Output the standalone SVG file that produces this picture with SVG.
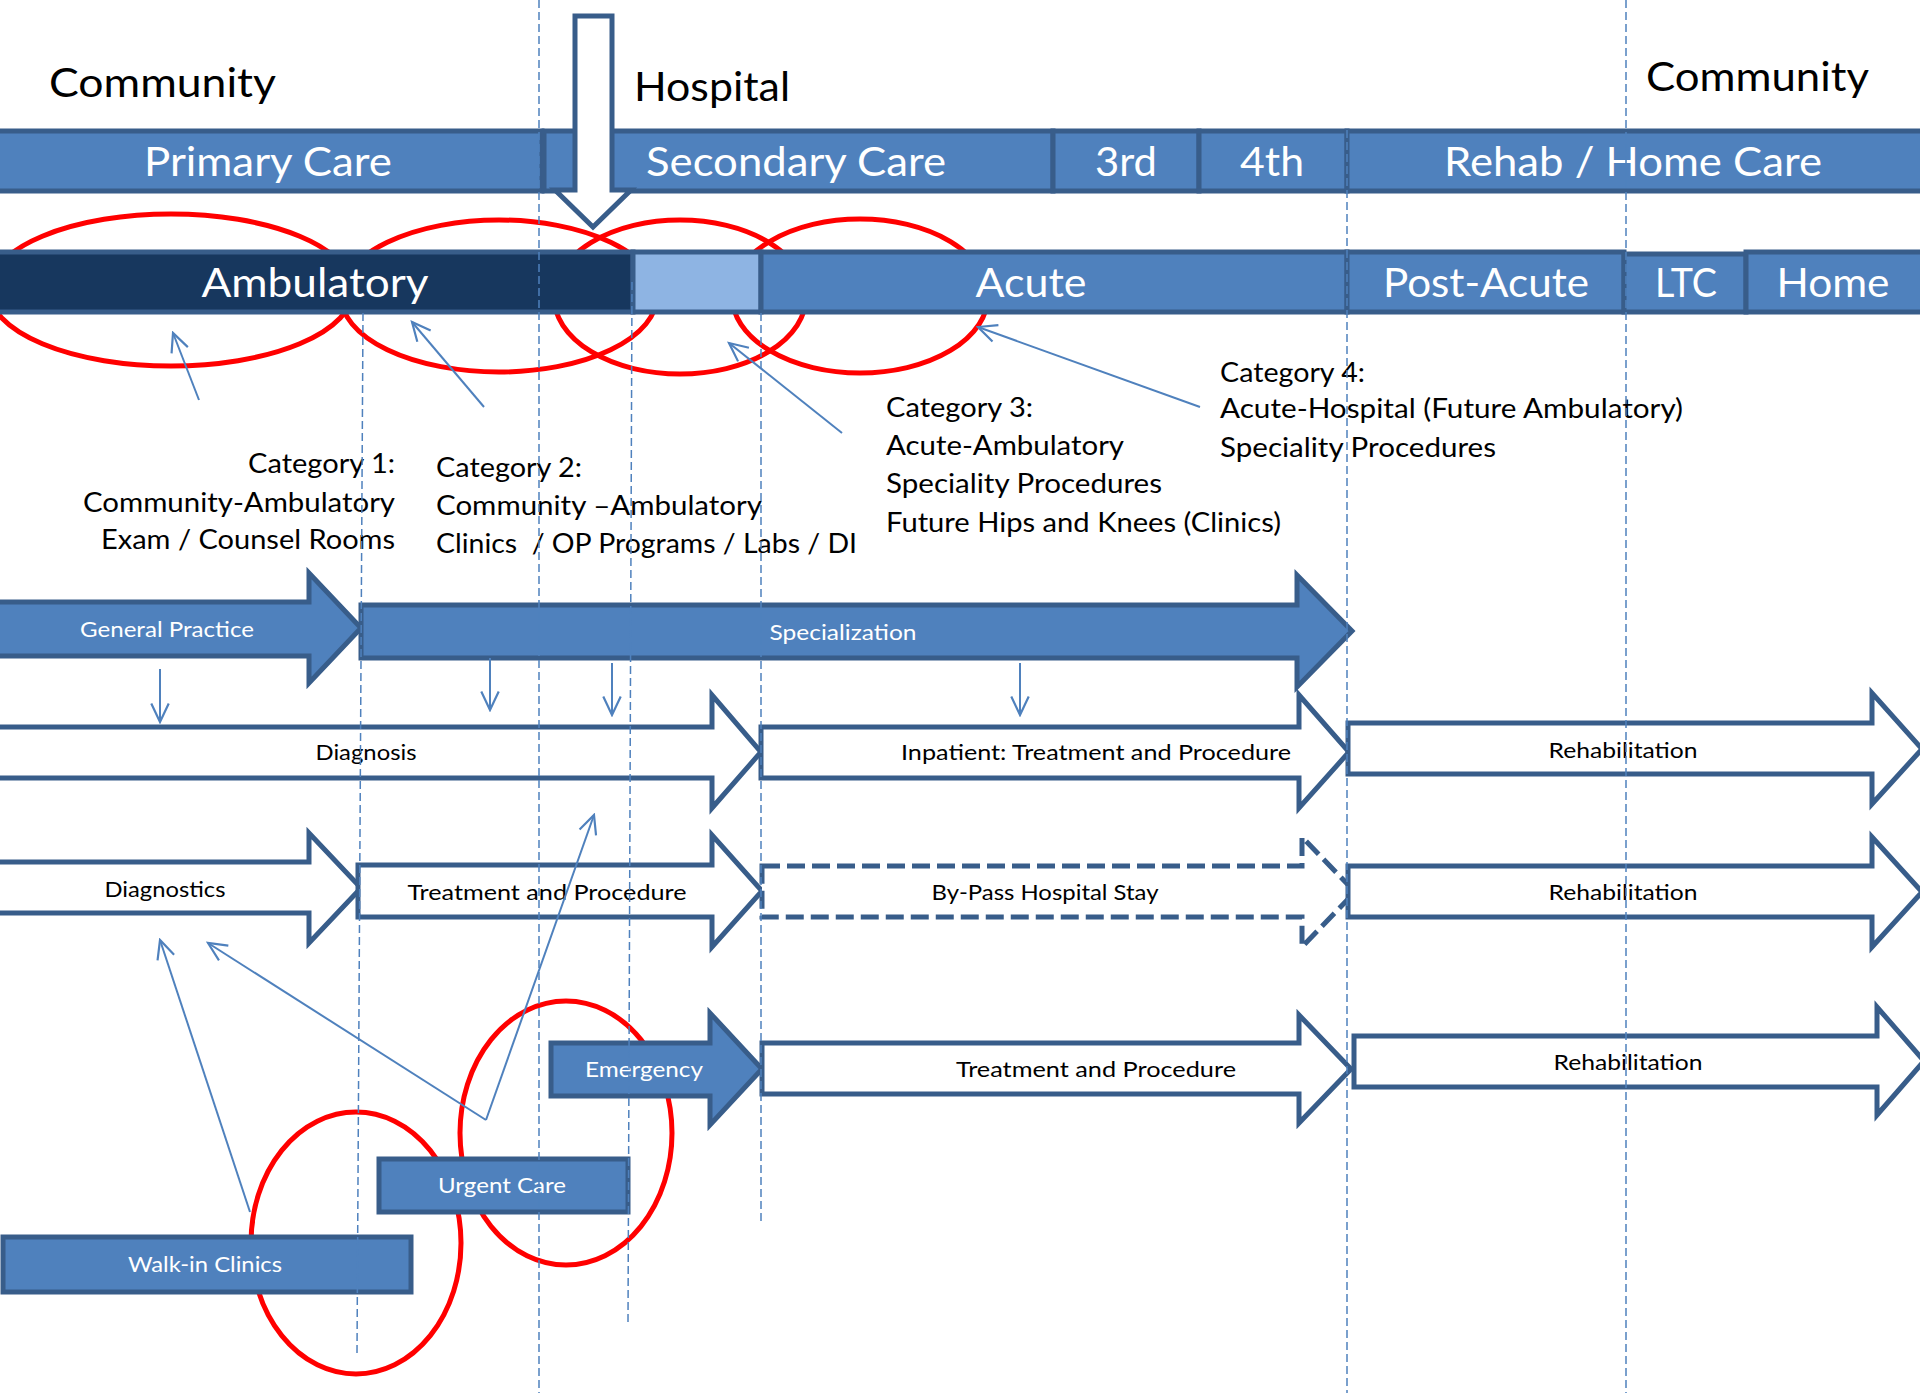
<svg xmlns="http://www.w3.org/2000/svg" width="1920" height="1393" viewBox="0 0 1920 1393">
  <style>
    text { font-family: Lato, "Open Sans", "Liberation Sans", sans-serif; }
    .bar { fill: #4F81BD; stroke: #385D8A; stroke-width: 5; }
    .dark { fill: #17375E; stroke: #385D8A; stroke-width: 5; }
    .light { fill: #8EB4E3; stroke: #385D8A; stroke-width: 5; }
    .hollow { fill: #FFFFFF; stroke: #385D8A; stroke-width: 5; stroke-linejoin: miter; }
    .dashed { stroke-dasharray: 18 7; }
    .ring { fill: none; stroke: #FF0000; stroke-width: 5; }
    .guide { stroke: #4F81BD; stroke-width: 1.5; stroke-dasharray: 8 4; fill: none; }
    .pointer { stroke: #4F81BD; stroke-width: 2; fill: none; marker-end: url(#vhead); }
    .big { font-size: 41px; }
    .white { fill: #FFFFFF; }
    .black { fill: #000000; }
    .cat { font-size: 27px; fill: #000000; }
    .lbl { font-size: 22px; }
    .mid { text-anchor: middle; }
  </style>
  <defs>
    <marker id="vhead" markerUnits="userSpaceOnUse" markerWidth="24" markerHeight="24" viewBox="-20 -10 22 20" refX="0" refY="0" orient="auto">
      <path d="M -17 -8 L 0 0 L -17 8" fill="none" stroke="#4F81BD" stroke-width="2"/>
    </marker>
  </defs>

  <rect x="0" y="0" width="1920" height="1393" fill="#FFFFFF"/>

  <!-- region headings -->
  <g id="headings">
    <text class="big black" x="49" y="97" textLength="227" lengthAdjust="spacingAndGlyphs">Community</text>
    <text class="big black" x="634" y="101" textLength="156" lengthAdjust="spacingAndGlyphs">Hospital</text>
    <text class="big black" x="1646" y="91" textLength="223" lengthAdjust="spacingAndGlyphs">Community</text>
  </g>

  <!-- red groupings around the ambulatory band -->
  <g id="rings-top">
    <ellipse class="ring" cx="171" cy="290" rx="182" ry="76"/>
    <ellipse class="ring" cx="499" cy="296" rx="158" ry="76"/>
    <ellipse class="ring" cx="680" cy="297" rx="126" ry="77"/>
    <ellipse class="ring" cx="860" cy="296" rx="128" ry="77"/>
  </g>

  <!-- care level band -->
  <g id="care-levels">
    <g id="primary-care">
      <rect class="bar" x="-5" y="131" width="547" height="60"/>
      <text class="big white mid" x="268" y="176" textLength="248" lengthAdjust="spacingAndGlyphs">Primary Care</text>
    </g>
    <g id="secondary-care">
      <rect class="bar" x="544" y="131" width="509" height="60"/>
      <text class="big white mid" x="796" y="176" textLength="300" lengthAdjust="spacingAndGlyphs">Secondary Care</text>
    </g>
    <g id="tertiary">
      <rect class="bar" x="1053" y="131" width="146" height="60"/>
      <text class="big white mid" x="1126" y="176" textLength="62" lengthAdjust="spacingAndGlyphs">3rd</text>
    </g>
    <g id="quaternary">
      <rect class="bar" x="1199" y="131" width="148" height="60"/>
      <text class="big white mid" x="1272" y="176" textLength="64" lengthAdjust="spacingAndGlyphs">4th</text>
    </g>
    <g id="rehab-home-care">
      <rect class="bar" x="1347" y="131" width="578" height="60"/>
      <text class="big white mid" x="1633" y="176" textLength="378" lengthAdjust="spacingAndGlyphs">Rehab / Home Care</text>
    </g>
  </g>

  <!-- setting band -->
  <g id="settings">
    <g id="ambulatory">
      <rect class="dark" x="-5" y="252" width="638" height="60"/>
      <text class="big white mid" x="315" y="297" textLength="227" lengthAdjust="spacingAndGlyphs">Ambulatory</text>
    </g>
    <g id="transition">
      <rect class="light" x="633" y="252" width="128" height="60"/>
    </g>
    <g id="acute">
      <rect class="bar" x="761" y="252" width="586" height="60"/>
      <text class="big white mid" x="1031" y="297" textLength="111" lengthAdjust="spacingAndGlyphs">Acute</text>
    </g>
    <g id="post-acute">
      <rect class="bar" x="1347" y="252" width="277" height="60"/>
      <text class="big white mid" x="1486" y="297" textLength="206" lengthAdjust="spacingAndGlyphs">Post-Acute</text>
    </g>
    <g id="ltc">
      <rect class="bar" x="1624" y="254" width="122" height="58"/>
      <text class="big white mid" x="1686" y="297" textLength="62" lengthAdjust="spacingAndGlyphs">LTC</text>
    </g>
    <g id="home">
      <rect class="bar" x="1746" y="252" width="179" height="60"/>
      <text class="big white mid" x="1833" y="297" textLength="113" lengthAdjust="spacingAndGlyphs">Home</text>
    </g>
  </g>

  <!-- entry arrow into hospital -->
  <g id="hospital-entry">
    <path class="hollow" d="M 575 16 H 612 V 190 H 631 L 593 227 L 555 190 H 575 Z"/>
  </g>

  <!-- category descriptions -->
  <g id="category-1">
    <text class="cat" x="395" y="473" text-anchor="end" textLength="147" lengthAdjust="spacingAndGlyphs">Category 1:</text>
    <text class="cat" x="395" y="512" text-anchor="end" textLength="312" lengthAdjust="spacingAndGlyphs">Community-Ambulatory</text>
    <text class="cat" x="395" y="549" text-anchor="end" textLength="294" lengthAdjust="spacingAndGlyphs">Exam / Counsel Rooms</text>
  </g>
  <g id="category-2">
    <text class="cat" x="436" y="477" textLength="146" lengthAdjust="spacingAndGlyphs">Category 2:</text>
    <text class="cat" x="436" y="515" textLength="326" lengthAdjust="spacingAndGlyphs">Community –Ambulatory</text>
    <text class="cat" x="436" y="553" textLength="421" lengthAdjust="spacingAndGlyphs" xml:space="preserve">Clinics  / OP Programs / Labs / DI</text>
  </g>
  <g id="category-3">
    <text class="cat" x="886" y="417" textLength="147" lengthAdjust="spacingAndGlyphs">Category 3:</text>
    <text class="cat" x="886" y="455" textLength="238" lengthAdjust="spacingAndGlyphs">Acute-Ambulatory</text>
    <text class="cat" x="886" y="493" textLength="276" lengthAdjust="spacingAndGlyphs">Speciality Procedures</text>
    <text class="cat" x="886" y="532" textLength="395" lengthAdjust="spacingAndGlyphs">Future Hips and Knees (Clinics)</text>
  </g>
  <g id="category-4">
    <text class="cat" x="1220" y="382" textLength="145" lengthAdjust="spacingAndGlyphs">Category 4:</text>
    <text class="cat" x="1220" y="418" textLength="463" lengthAdjust="spacingAndGlyphs">Acute-Hospital (Future Ambulatory)</text>
    <text class="cat" x="1220" y="457" textLength="276" lengthAdjust="spacingAndGlyphs">Speciality Procedures</text>
  </g>

  <!-- red groupings around urgent care and walk-in -->
  <g id="rings-bottom">
    <ellipse class="ring" cx="566" cy="1133" rx="106" ry="132"/>
    <ellipse class="ring" cx="356" cy="1243" rx="105" ry="131"/>
  </g>

  <!-- pathway arrows -->
  <g id="general-practice">
    <path class="bar" d="M -10 602 H 309 V 573 L 361 628 L 309 683 V 656 H -10 Z"/>
    <text class="lbl white mid" x="167" y="637" textLength="174" lengthAdjust="spacingAndGlyphs">General Practice</text>
  </g>
  <g id="specialization">
    <path class="bar" d="M 361 605 H 1297 V 575 L 1352 631 L 1297 687 V 658 H 361 Z"/>
    <text class="lbl white mid" x="843" y="640" textLength="147" lengthAdjust="spacingAndGlyphs">Specialization</text>
  </g>

  <g id="diagnosis">
    <path class="hollow" d="M -10 727 H 712 V 695 L 761 752 L 712 808 V 778 H -10 Z"/>
    <text class="lbl black mid" x="366" y="760" textLength="101" lengthAdjust="spacingAndGlyphs">Diagnosis</text>
  </g>
  <g id="inpatient">
    <path class="hollow" d="M 761 727 H 1299 V 695 L 1349 752 L 1299 808 V 778 H 761 Z"/>
    <text class="lbl black mid" x="1096" y="760" textLength="390" lengthAdjust="spacingAndGlyphs">Inpatient: Treatment and Procedure</text>
  </g>
  <g id="rehabilitation-1">
    <path class="hollow" d="M 1348 723 H 1872 V 693 L 1922 749 L 1872 804 V 774 H 1348 Z"/>
    <text class="lbl black mid" x="1623" y="758" textLength="149" lengthAdjust="spacingAndGlyphs">Rehabilitation</text>
  </g>

  <g id="diagnostics">
    <path class="hollow" d="M -10 862 H 309 V 833 L 361 888 L 309 943 V 913 H -10 Z"/>
    <text class="lbl black mid" x="165" y="897" textLength="121" lengthAdjust="spacingAndGlyphs">Diagnostics</text>
  </g>
  <g id="treatment-2">
    <path class="hollow" d="M 358 865 H 712 V 835 L 762 891 L 712 947 V 917 H 358 Z"/>
    <text class="lbl black mid" x="547" y="900" textLength="279" lengthAdjust="spacingAndGlyphs">Treatment and Procedure</text>
  </g>
  <g id="bypass">
    <path class="hollow dashed" d="M 762 866 H 1302 V 837 L 1355 892 L 1302 947 V 917 H 762 Z"/>
    <text class="lbl black mid" x="1045" y="900" textLength="227" lengthAdjust="spacingAndGlyphs">By-Pass Hospital Stay</text>
  </g>
  <g id="rehabilitation-2">
    <path class="hollow" d="M 1348 866 H 1872 V 837 L 1922 892 L 1872 947 V 917 H 1348 Z"/>
    <text class="lbl black mid" x="1623" y="900" textLength="149" lengthAdjust="spacingAndGlyphs">Rehabilitation</text>
  </g>

  <g id="emergency">
    <path class="bar" d="M 551 1043 H 710 V 1013 L 762 1069 L 710 1125 V 1096 H 551 Z"/>
    <text class="lbl white mid" x="644" y="1077" textLength="118" lengthAdjust="spacingAndGlyphs">Emergency</text>
  </g>
  <g id="treatment-3">
    <path class="hollow" d="M 762 1043 H 1299 V 1015 L 1351 1069 L 1299 1123 V 1094 H 762 Z"/>
    <text class="lbl black mid" x="1096" y="1077" textLength="280" lengthAdjust="spacingAndGlyphs">Treatment and Procedure</text>
  </g>
  <g id="rehabilitation-3">
    <path class="hollow" d="M 1354 1036 H 1877 V 1007 L 1924 1061 L 1877 1115 V 1087 H 1354 Z"/>
    <text class="lbl black mid" x="1628" y="1070" textLength="149" lengthAdjust="spacingAndGlyphs">Rehabilitation</text>
  </g>

  <g id="urgent-care">
    <rect class="bar" x="379" y="1159" width="249" height="53"/>
    <text class="lbl white mid" x="502" y="1193" textLength="128" lengthAdjust="spacingAndGlyphs">Urgent Care</text>
  </g>
  <g id="walk-in-clinics">
    <rect class="bar" x="3" y="1237" width="408" height="55"/>
    <text class="lbl white mid" x="205" y="1272" textLength="154" lengthAdjust="spacingAndGlyphs">Walk-in Clinics</text>
  </g>

  <!-- connectors: pointers and dashed column guides -->
  <g id="connectors">
    <line class="pointer" x1="199" y1="400" x2="173" y2="333"/>
    <line class="pointer" x1="484" y1="407" x2="412" y2="322"/>
    <line class="pointer" x1="842" y1="433" x2="729" y2="343"/>
    <line class="pointer" x1="1200" y1="407" x2="978" y2="327"/>

    <line class="pointer" x1="160" y1="669" x2="160" y2="722"/>
    <line class="pointer" x1="490" y1="658" x2="490" y2="710"/>
    <line class="pointer" x1="612" y1="663" x2="612" y2="715"/>
    <line class="pointer" x1="1020" y1="663" x2="1020" y2="715"/>

    <line class="pointer" x1="250" y1="1212" x2="160" y2="940"/>
    <line class="pointer" x1="486" y1="1120" x2="208" y2="943"/>
    <line class="pointer" x1="486" y1="1120" x2="594" y2="815"/>

    <line class="guide" x1="539" y1="0" x2="539" y2="1393"/>
    <line class="guide" x1="363" y1="313" x2="357" y2="1353"/>
    <line class="guide" x1="632" y1="282" x2="628" y2="1322"/>
    <line class="guide" x1="761" y1="313" x2="761" y2="1222"/>
    <line class="guide" x1="1347" y1="130" x2="1347" y2="1393"/>
    <line class="guide" x1="1626" y1="0" x2="1626" y2="1393"/>
  </g>
</svg>
